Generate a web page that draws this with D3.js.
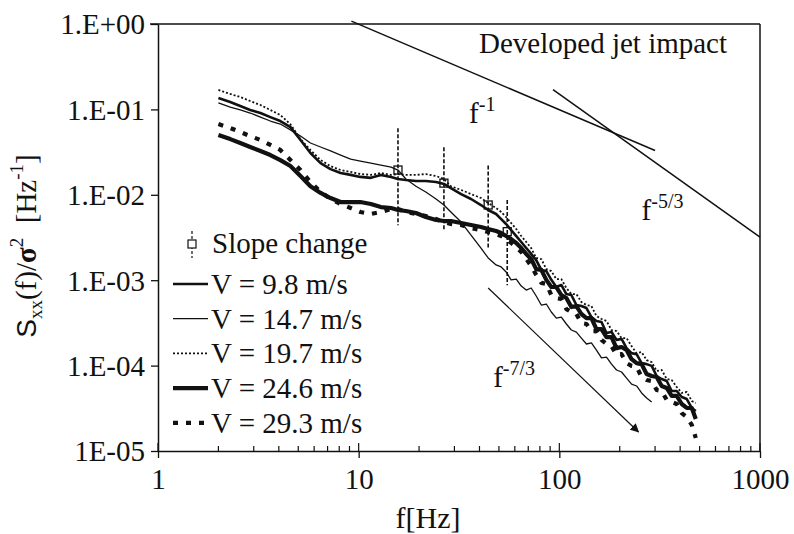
<!DOCTYPE html>
<html>
<head>
<meta charset="utf-8">
<script src="https://cdn.jsdelivr.net/npm/d3@7"></script>
<style>
  body { margin: 0; background: #fff; }
</style>
</head>
<body>
<div id="chart"></div>
<script>
// DATA
// frequency grid shared by all spectra [Hz]
var freq = [2.00, 2.29, 2.57, 2.88, 3.24, 3.63, 4.07, 4.57, 5.13, 5.75, 6.46, 7.24, 8.13, 9.12, 10.2, 11.5, 12.9, 14.5, 15.7, 17.2,
  19.3, 21.6, 24.3, 26.6, 28.8, 32.4, 36.3, 40.7, 44.2, 48.4, 51.3, 54.3, 57.5, 61.0, 64.6, 68.4, 72.4,
  76.7, 81.3, 86.1, 91.2, 96.6, 102.3, 108.4, 114.8, 121.6, 128.8, 136.5, 144.5, 153.1, 162.2, 171.8, 182.0, 192.8, 204.2,
  216.3, 229.1, 242.7, 257.0, 272.3, 288.4, 305.5, 323.6, 342.8, 363.1, 384.6, 407.4, 431.5, 457.1, 478.6];

// normalised spectra Sxx(f)/sigma^2
var v98 = [0.136, 0.122, 0.1095, 0.0984, 0.0907, 0.0813, 0.0731, 0.0620, 0.0438, 0.0309, 0.0235, 0.0200, 0.0180, 0.0171, 0.0162,
  0.0158, 0.0171, 0.0162, 0.0153, 0.0149, 0.0145, 0.0145, 0.0141, 0.0134, 0.0120, 0.0102, 0.00893, 0.00759, 0.00664, 0.00596,
  0.00520, 0.00455, 0.00387, 0.00329, 0.00280, 0.00238, 0.00203,
  0.00172, 0.00132, 0.00128, 0.00101, 0.000832, 0.000879, 0.000688, 0.000671, 0.000512, 0.000498, 0.000472, 0.000370, 0.000333,
  0.000324, 0.000241, 0.000247, 0.000200, 0.000205, 0.000160, 0.000140, 0.000136, 0.000107, 0.000104, 0.0000992, 0.0000755,
  0.0000696, 0.0000660, 0.0000504, 0.0000504, 0.0000429, 0.0000406, 0.0000319, 0.0000294];
var v147 = [0.119, 0.1065, 0.0984, 0.0907, 0.0813, 0.0731, 0.0674, 0.0575, 0.0487, 0.0404, 0.0363, 0.0326, 0.0292, 0.0262, 0.0248,
  0.0235, 0.0223, 0.0211, 0.0195, 0.0153, 0.0126, 0.0108, 0.00893, 0.00759, 0.00629, 0.00480, 0.00338, 0.00238, 0.00182, 0.00151,
  0.00143, 0.00125, 0.00101, 0.00103, 0.000855, 0.000767, 0.000810,
  0.000653, 0.000512, 0.000526, 0.000424, 0.000360, 0.000370, 0.000307, 0.000261, 0.000247, 0.000210, 0.000179, 0.000184,
  0.000152, 0.000123, 0.000126, 0.000104, 0.0000888, 0.0000841, 0.0000715, 0.0000608, 0.0000577, 0.0000478, 0.0000418, 0.0000375];
var v197 = [0.169, 0.1516, 0.1397, 0.1255, 0.1125, 0.0984, 0.0859, 0.0670, 0.0449, 0.0335, 0.0255, 0.0217, 0.0195, 0.0185, 0.0175,
  0.0171, 0.0180, 0.0171, 0.0175, 0.0171, 0.0171, 0.0175, 0.0166, 0.0153, 0.0126, 0.0114, 0.0102, 0.00917, 0.00801, 0.00700,
  0.00629, 0.00549, 0.00467, 0.00397, 0.00329, 0.00280, 0.00238,
  0.00182, 0.00177, 0.00135, 0.00128, 0.00103, 0.00103, 0.000810, 0.000688, 0.000688, 0.000555, 0.000512, 0.000498, 0.000380,
  0.000351, 0.000333, 0.000261, 0.000254, 0.000210, 0.000210, 0.000169, 0.000140, 0.000144, 0.000116, 0.000110, 0.0000864,
  0.0000888, 0.0000696, 0.0000678, 0.0000562, 0.0000478, 0.0000491, 0.0000385, 0.0000365];
var v246 = [0.0501, 0.0449, 0.0404, 0.0363, 0.0326, 0.0292, 0.0255, 0.0217, 0.0166, 0.0126, 0.0105, 0.00917, 0.00823, 0.00823,
  0.00823, 0.00780, 0.00719, 0.00700, 0.00664, 0.00646, 0.00612, 0.00549, 0.00507, 0.00493, 0.00493, 0.00467, 0.00443, 0.00420,
  0.00397, 0.00377, 0.00357, 0.00329, 0.00303, 0.00273, 0.00238, 0.00203, 0.00177,
  0.00135, 0.00132, 0.00101, 0.000832, 0.000832, 0.000671, 0.000619, 0.000485, 0.000498, 0.000402, 0.000360, 0.000360, 0.000268,
  0.000268, 0.000216, 0.000216, 0.000160, 0.000165, 0.000152, 0.000119, 0.000107, 0.000104, 0.0000797, 0.0000755, 0.0000735,
  0.0000577, 0.0000547, 0.0000441, 0.0000441, 0.0000355, 0.0000319, 0.0000319, 0.0000237];
var v293 = [0.0674, 0.0605, 0.0544, 0.0487, 0.0438, 0.0383, 0.0335, 0.0255, 0.0195, 0.0141, 0.0108, 0.00893, 0.00780, 0.00700,
  0.00629, 0.00596, 0.00629, 0.00681, 0.00681, 0.00629, 0.00596, 0.00564, 0.00520, 0.00480, 0.00455, 0.00443, 0.00408, 0.00387,
  0.00366, 0.00347, 0.00329, 0.00303, 0.00273, 0.00244, 0.00214, 0.00177, 0.00147,
  0.00115, 0.000931, 0.000906, 0.000671, 0.000619, 0.000602, 0.000459, 0.000424, 0.000402, 0.000315, 0.000307, 0.000254, 0.000254,
  0.000200, 0.000179, 0.000169, 0.000133, 0.000136, 0.000107, 0.0000992, 0.0000966, 0.0000735, 0.0000678, 0.0000660, 0.0000518,
  0.0000504, 0.0000396, 0.0000375, 0.0000355, 0.0000278, 0.0000250, 0.0000202, 0.0000142];

var seriesLabels = ["V = 9.8 m/s", "V = 14.7 m/s", "V = 19.7 m/s", "V = 24.6 m/s", "V = 29.3 m/s"];

// slope change markers
var slopeF = [15.7, 26.6, 44.2, 55.0];
var slopeS = [0.0195, 0.0137, 0.0076, 0.0037];
var slopeHigh = [0.060, 0.036, 0.022, 0.0087];
var slopeLow = [0.0044, 0.0039, 0.0024, 0.00087];

// reference power laws (end points)
var lawM1 = [[9.2, 1.08], [300, 0.033]];
var lawM53 = [[93, 0.17], [1000, 0.0032]];
var lawM73 = [[44.2, 0.00081], [248, 0.0000167]];

var yTickValues = [1, 0.1, 0.01, 0.001, 0.0001, 0.00001];
var yTickLabels = ["1.E+00", "1.E-01", "1.E-02", "1.E-03", "1.E-04", "1E-05"];
var xTickValues = [1, 10, 100, 1000];

// SET UP
var width = 794, height = 534;
var serif = "'Liberation Serif', Tinos, 'Times New Roman', Times, 'DejaVu Serif', serif";
var svg = d3.select("#chart").append("svg")
    .attr("width", width)
    .attr("height", height)
    .attr("font-family", serif);

var xScale = d3.scaleLog().domain([1, 1000]).range([158, 760]);
var yScale = d3.scaleLog().domain([1e-5, 1]).range([451, 24]);
var ink = "#111";

// frame: top and right borders
svg.append("line").attr("x1", 150).attr("x2", 760).attr("y1", 24).attr("y2", 24)
    .attr("stroke", ink).attr("stroke-width", 1.5);
svg.append("line").attr("x1", 760).attr("x2", 760).attr("y1", 24).attr("y2", 451)
    .attr("stroke", ink).attr("stroke-width", 1.5);

// Y axis
var yAxis = svg.append("g")
    .attr("transform", "translate(158,0)")
    .call(d3.axisLeft(yScale).tickValues(yTickValues)
        .tickFormat(function(d, i) { return yTickLabels[i]; })
        .tickSizeInner(7).tickSizeOuter(0).tickPadding(6));
yAxis.selectAll("text").attr("dy", "0.34em");

// X axis
var xAxis = svg.append("g")
    .attr("transform", "translate(0,451)")
    .call(d3.axisBottom(xScale).tickValues(xTickValues)
        .tickFormat(d3.format("d"))
        .tickSizeInner(7).tickSizeOuter(0).tickPadding(10));
[yAxis, xAxis].forEach(function(a) {
    a.attr("font-family", serif).attr("font-size", 29);
    a.select(".domain").attr("stroke", ink).attr("stroke-width", 1.5);
    a.selectAll(".tick line").attr("stroke", ink).attr("stroke-width", 1.3);
    a.selectAll("text").attr("fill", ink);
});

// inward ticks on the x axis (minor and major)
var minorX = [];
[1, 10, 100].forEach(function(dec) {
    for (var k = 2; k <= 9; k++) minorX.push(dec * k);
});
svg.append("g").selectAll("line")
    .data(minorX.concat(xTickValues))
    .join("line")
    .attr("x1", function(d) { return xScale(d); })
    .attr("x2", function(d) { return xScale(d); })
    .attr("y1", 451)
    .attr("y2", function(d) { return xTickValues.indexOf(d) >= 0 ? 443 : 446; })
    .attr("stroke", ink).attr("stroke-width", 1.2);

// axis titles
svg.append("text")
    .attr("x", 428).attr("y", 528)
    .attr("text-anchor", "middle")
    .attr("font-size", 30).attr("fill", ink)
    .text("f[Hz]");

var yLab = svg.append("text")
    .attr("transform", "translate(36,246) rotate(-90)")
    .attr("text-anchor", "middle")
    .attr("font-size", 29).attr("fill", ink);
yLab.append("tspan").attr("font-family", "'Liberation Sans', Arial, sans-serif").attr("font-size", 28).text("S");
yLab.append("tspan").attr("dy", 6).attr("font-size", 19).text("xx");
yLab.append("tspan").attr("dy", -6).text("(f)/");
yLab.append("tspan").attr("font-weight", "bold").text("\u03c3");
yLab.append("tspan").attr("dy", -13).attr("font-size", 19).text("2");
yLab.append("tspan").attr("dy", 13).text("\u00a0\u00a0[Hz");
yLab.append("tspan").attr("dy", -13).attr("font-size", 19).text("-1");
yLab.append("tspan").attr("dy", 13).text("]");

// reference power-law lines
var lawLine = d3.line()
    .x(function(d) { return xScale(d[0]); })
    .y(function(d) { return yScale(d[1]); });
[lawM1, lawM53].forEach(function(pts) {
    svg.append("path").attr("d", lawLine(pts))
        .attr("fill", "none").attr("stroke", ink).attr("stroke-width", 1.5);
});
svg.append("defs").append("marker")
    .attr("id", "arrow").attr("viewBox", "0 0 10 10")
    .attr("refX", 9).attr("refY", 5)
    .attr("markerWidth", 9).attr("markerHeight", 9)
    .attr("markerUnits", "userSpaceOnUse")
    .attr("orient", "auto")
    .append("path").attr("d", "M0,0 L10,5 L0,10 Z").attr("fill", ink);
svg.append("path").attr("d", lawLine(lawM73))
    .attr("fill", "none").attr("stroke", ink).attr("stroke-width", 1.2)
    .attr("marker-end", "url(#arrow)");

// power-law labels
function powerLabel(f, s, sup) {
    var t = svg.append("text")
        .attr("x", xScale(f)).attr("y", yScale(s))
        .attr("font-size", 29).attr("fill", ink);
    t.append("tspan").text("f");
    t.append("tspan").attr("dy", -12).attr("font-size", 20).text(sup);
}
powerLabel(35.5, 0.069, "-1");
powerLabel(257, 0.0051, "-5/3");
powerLabel(46.8, 0.000056, "-7/3");

svg.append("text")
    .attr("x", xScale(39.8)).attr("y", yScale(0.457))
    .attr("font-size", 29).attr("fill", ink)
    .text("Developed jet impact");

// SPECTRA
var styles = [
    {width: 2.6, dash: null},     // 9.8
    {width: 1.3, dash: null},     // 14.7
    {width: 1.8, dash: "2,2"},    // 19.7
    {width: 4.2, dash: null},     // 24.6
    {width: 4.2, dash: "5,8"}     // 29.3
];
var allSeries = [v98, v147, v197, v246, v293];
var spectrumLine = d3.line()
    .x(function(d) { return xScale(d[0]); })
    .y(function(d) { return yScale(d[1]); });
var drawOrder = [4, 3, 0, 1, 2];
drawOrder.forEach(function(i) {
    var pts = allSeries[i].map(function(s, k) { return [freq[k], s]; });
    svg.append("path")
        .attr("d", spectrumLine(pts))
        .attr("fill", "none")
        .attr("stroke", ink)
        .attr("stroke-width", styles[i].width)
        .attr("stroke-dasharray", styles[i].dash)
        .attr("stroke-linejoin", "round");
});

// slope change markers
var marks = svg.append("g");
slopeF.forEach(function(f, i) {
    marks.append("line")
        .attr("x1", xScale(f)).attr("x2", xScale(f))
        .attr("y1", yScale(slopeHigh[i])).attr("y2", yScale(slopeLow[i]))
        .attr("stroke", ink).attr("stroke-width", 1.6).attr("stroke-dasharray", "4,2");
    marks.append("rect")
        .attr("x", xScale(f) - 4).attr("y", yScale(slopeS[i]) - 4)
        .attr("width", 8).attr("height", 8)
        .attr("fill", "none").attr("stroke", ink).attr("stroke-width", 1.3);
});

// LEGEND
var legend = svg.append("g");
legend.append("line").attr("x1", 192).attr("x2", 192).attr("y1", 231).attr("y2", 258)
    .attr("stroke", ink).attr("stroke-width", 1.2).attr("stroke-dasharray", "3,2");
legend.append("rect").attr("x", 188).attr("y", 240).attr("width", 8).attr("height", 8)
    .attr("fill", "#fff").attr("stroke", ink).attr("stroke-width", 1.2);
legend.append("text").attr("x", 212).attr("y", 253)
    .attr("font-size", 29).attr("fill", ink).text("Slope change");

seriesLabels.forEach(function(label, i) {
    var y = 284 + i * 34.7;
    legend.append("line")
        .attr("x1", 173).attr("x2", 208).attr("y1", y).attr("y2", y)
        .attr("stroke", ink)
        .attr("stroke-width", styles[i].width)
        .attr("stroke-dasharray", styles[i].dash);
    legend.append("text")
        .attr("x", 211).attr("y", y + 10)
        .attr("font-size", 29).attr("fill", ink)
        .text(label);
});
</script>
</body>
</html>
